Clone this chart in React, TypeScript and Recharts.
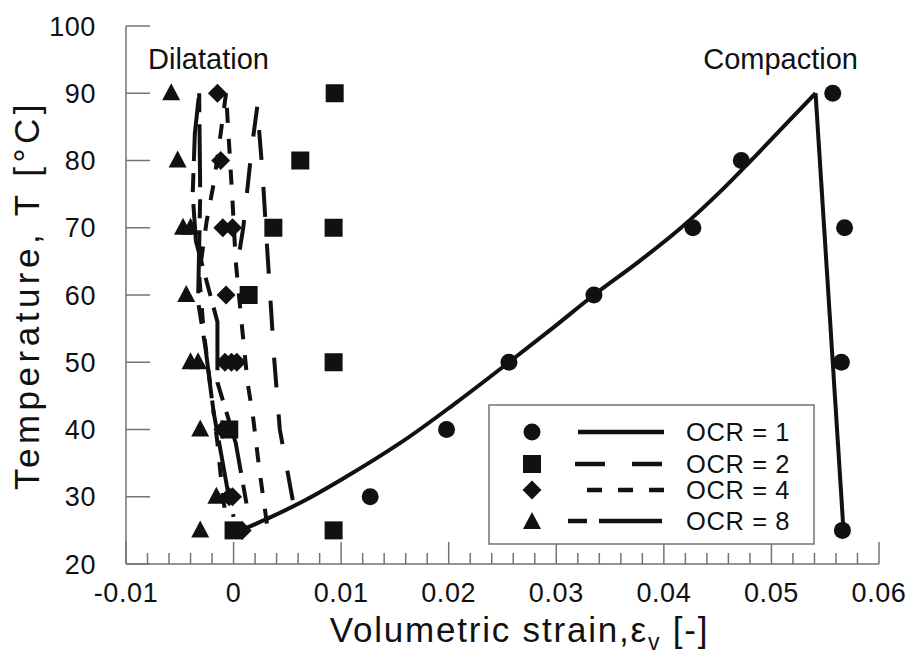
import React from 'react';
import { ScatterChart, Scatter, XAxis, YAxis, Label } from 'recharts';

// measured points, OCR = 1 (circles)
const ocr1Strain = [0.0004, 0.0127, 0.0198, 0.0256, 0.0335, 0.0427, 0.0472, 0.0557, 0.0568, 0.0565, 0.0566];
const ocr1Temp = [25, 30, 40, 50, 60, 70, 80, 90, 70, 50, 25];

// OCR = 2 (squares)
const ocr2Strain = [0.0, -0.0004, 0.0014, 0.0037, 0.0062, 0.0094, 0.0093, 0.0093, 0.0093];
const ocr2Temp = [25, 40, 60, 70, 80, 90, 70, 50, 25];

// OCR = 4 (diamonds)
const ocr4Strain = [0.0008, -0.0004, -0.0001, -0.001, -0.0008, -0.0002, 0.0003, -0.0007, -0.001, -0.0001, -0.0012, -0.0015];
const ocr4Temp = [25, 30, 30, 40, 50, 50, 50, 60, 70, 70, 80, 90];

// OCR = 8 (triangles)
const ocr8Strain = [-0.0031, -0.0016, -0.0031, -0.004, -0.0033, -0.0044, -0.0047, -0.004, -0.0052, -0.0058];
const ocr8Temp = [25, 30, 40, 50, 50, 60, 70, 70, 80, 90];

// simulated curves
const sim1HeatStrain = [0.0007, 0.0035, 0.0062, 0.0105, 0.0155, 0.0207, 0.0256, 0.0296, 0.0335, 0.0377, 0.0416, 0.045, 0.0481, 0.0511, 0.0541];
const sim1HeatTemp = [25, 27, 29.1, 33, 38, 44, 50, 55, 60, 65, 70, 75, 80, 85, 90];
const sim1CoolStrain = [0.0541, 0.0567];
const sim1CoolTemp = [90, 25];

const sim2HeatStrain = [0.0055, 0.0043, 0.0038, 0.0034, 0.003, 0.0027, 0.0022];
const sim2HeatTemp = [29.5, 40, 50, 60, 70, 78, 88];
const sim2CoolStrain = [0.0022, 0.0017, 0.0013, 0.0009, 0.0003];
const sim2CoolTemp = [88, 82, 76, 70, 64];

const sim4HeatStrain = [0.0031, 0.0024, 0.0018, 0.0013, 0.0008, 0.0002, -0.0001, -0.0004, -0.0007];
const sim4HeatTemp = [26, 34, 42, 47, 55, 65, 74, 82, 90];
const sim4CoolStrain = [-0.0007, -0.0012, -0.0018, -0.0025, -0.0032, -0.0028, -0.0022, -0.0015, -0.001, -0.0006];
const sim4CoolTemp = [90, 84, 77, 71, 63, 55, 47, 38, 30, 26];

const sim8HeatStrain = [0.0012, 0.0002, -0.0015, -0.0015, -0.0035, -0.0038, -0.0036, -0.0032];
const sim8HeatTemp = [29, 38, 47, 56, 68, 75, 84, 90];
const sim8CoolStrain = [-0.0032, -0.0031, -0.0033, -0.0026, -0.0019, -0.0005, 0.0];
const sim8CoolTemp = [90, 75, 59, 52, 43, 30.5, 27];

const xMajorTicks = [-0.01, 0, 0.01, 0.02, 0.03, 0.04, 0.05, 0.06];
const xMajorLabels = ['-0.01', '0', '0.01', '0.02', '0.03', '0.04', '0.05', '0.06'];
const xMinorTicks = [
  -0.008, -0.006, -0.004, -0.002, 0.002, 0.004, 0.006, 0.008, 0.012, 0.014, 0.016, 0.018,
  0.022, 0.024, 0.026, 0.028, 0.032, 0.034, 0.036, 0.038, 0.042, 0.044, 0.046, 0.048,
  0.052, 0.054, 0.056, 0.058,
];
const yTicks = [20, 30, 40, 50, 60, 70, 80, 90, 100];

const legendLabels = ['OCR = 1', 'OCR = 2', 'OCR = 4', 'OCR = 8'];

const zip = (xs: number[], ys: number[]) => xs.map((x, i) => ({ x, y: ys[i] }));

const FONT = '"Liberation Sans", Arial, Helvetica, sans-serif';
const INK = '#111';
const FRAME = '#737373';
const W = 898;
const H = 647;
const X_MARGIN = 19;
const Y_MARGIN = 30;

const dash2 = '30 27';
const dash4 = '15 16';
const dash8 = '19 12 63 12';

const allXTicks = [...xMajorTicks, ...xMinorTicks].sort((a, b) => a - b);
const isMajor = (v: number) => xMajorTicks.some((m) => Math.abs(m - v) < 1e-9);
const majorLabel = (v: number) => xMajorLabels[xMajorTicks.findIndex((m) => Math.abs(m - v) < 1e-9)];

const Circle = (p: any) => <circle cx={p.cx} cy={p.cy} r={8.5} fill={INK} />;
const Square = (p: any) => <rect x={p.cx - 9} y={p.cy - 9} width={18} height={18} fill={INK} />;
const Diamond = (p: any) => (
  <polygon points={`${p.cx},${p.cy - 9.5} ${p.cx + 9.5},${p.cy} ${p.cx},${p.cy + 9.5} ${p.cx - 9.5},${p.cy}`} fill={INK} />
);
const Triangle = (p: any) => (
  <polygon points={`${p.cx},${p.cy - 10} ${p.cx + 9},${p.cy + 7} ${p.cx - 9},${p.cy + 7}`} fill={INK} />
);
const NoDot = () => <g />;

const BottomTick = (p: any) => {
  const v = p.payload.value;
  const major = isMajor(v);
  const axisY = p.y - X_MARGIN;
  return (
    <g>
      <line x1={p.x} x2={p.x} y1={axisY} y2={axisY - (major ? 22 : 11)} stroke={FRAME} strokeWidth={1.5} />
      {major && (
        <text x={p.x} y={p.y} dy="0.71em" textAnchor="middle" fontSize={27} fill={INK} fontFamily={FONT} letterSpacing={0.6}>
          {majorLabel(v)}
        </text>
      )}
    </g>
  );
};

const TopTick = (p: any) => {
  const major = isMajor(p.payload.value);
  return <line x1={p.x} x2={p.x} y1={p.y} y2={p.y + (major ? 22 : 11)} stroke={FRAME} strokeWidth={1.5} />;
};

const LeftTick = (p: any) => {
  const axisX = p.x + Y_MARGIN;
  return (
    <g>
      <line x1={axisX} x2={axisX + 24} y1={p.y} y2={p.y} stroke={FRAME} strokeWidth={1.5} />
      <text x={p.x} y={p.y} dy="0.36em" textAnchor="end" fontSize={27} fill={INK} fontFamily={FONT} letterSpacing={0.6}>
        {p.payload.value}
      </text>
    </g>
  );
};

const RightTick = (p: any) => <line x1={p.x} x2={p.x - 24} y1={p.y} y2={p.y} stroke={FRAME} strokeWidth={1.5} />;

const XTitle = (p: any) => {
  const vb = p.viewBox;
  return (
    <text x={vb.x + vb.width / 2 + 17} y={634} textAnchor="middle" fontSize={35} fill={INK} fontFamily={FONT} letterSpacing={1.8}>
      <tspan>Volumetric strain,</tspan>
      <tspan>ε</tspan>
      <tspan fontSize={23} dy={8}>v</tspan>
      <tspan dy={-8}> [-]</tspan>
    </text>
  );
};

const YTitle = (p: any) => {
  const vb = p.viewBox;
  const cy = vb.y + vb.height / 2;
  return (
    <text x={31} y={cy} transform={`rotate(-90, 31, ${cy})`} textAnchor="middle" fontSize={35} fill={INK} fontFamily={FONT} letterSpacing={4.5}>
      Temperature, T [°C]
    </text>
  );
};

const legendRows = [
  { marker: 'circle', dash: undefined },
  { marker: 'square', dash: dash2 },
  { marker: 'diamond', dash: dash4 },
  { marker: 'triangle', dash: dash8 },
];
const rowY = [28, 60, 86, 117];

const LegendBox = () => (
  <svg width={327} height={141} style={{ position: 'absolute', left: 480, top: 396 }}>
    <rect x={1} y={1} width={325} height={139} fill="#fff" stroke={FRAME} strokeWidth={1.5} />
    {legendRows.map((r, i) => {
      const cy = rowY[i];
      const cx = 44;
      let m;
      if (r.marker === 'circle') m = <Circle cx={cx} cy={cy} />;
      else if (r.marker === 'square') m = <Square cx={cx} cy={cy} />;
      else if (r.marker === 'diamond') m = <Diamond cx={cx} cy={cy} />;
      else m = <Triangle cx={cx} cy={cy + 1} />;
      const x1 = r.marker === 'square' ? 87 : r.marker === 'diamond' ? 99 : r.marker === 'triangle' ? 80 : 90;
      return (
        <g key={i}>
          {m}
          <line x1={x1} x2={176} y1={cy} y2={cy} stroke={INK} strokeWidth={4.3} strokeDasharray={r.dash} />
          <text x={198} y={cy} dy="0.36em" fontSize={25.5} fill={INK} fontFamily={FONT} letterSpacing={0.6}>
            {legendLabels[i]}
          </text>
        </g>
      );
    })}
  </svg>
);

const lineSeries = [
  { data: zip(sim1HeatStrain, sim1HeatTemp), dash: undefined, joint: 'monotoneY' },
  { data: zip(sim1CoolStrain, sim1CoolTemp), dash: undefined, joint: 'linear' },
  { data: zip(sim2HeatStrain, sim2HeatTemp), dash: dash2, joint: 'linear' },
  { data: zip(sim2CoolStrain, sim2CoolTemp), dash: dash2, joint: 'linear' },
  { data: zip(sim4HeatStrain, sim4HeatTemp), dash: dash4, joint: 'linear' },
  { data: zip(sim4CoolStrain, sim4CoolTemp), dash: dash4, joint: 'linear' },
  { data: zip(sim8HeatStrain, sim8HeatTemp), dash: dash8, joint: 'linear' },
  { data: zip(sim8CoolStrain, sim8CoolTemp), dash: dash8, joint: 'linear' },
];

export default function App() {
  return (
    <div style={{ position: 'relative', width: W, height: H, fontFamily: FONT }}>
      <ScatterChart width={W} height={H} margin={{ top: 18, right: 27, bottom: 0, left: 0 }}>
        <XAxis
          xAxisId="b"
          type="number"
          dataKey="x"
          domain={[-0.01, 0.06]}
          ticks={allXTicks}
          interval={0}
          height={91}
          tickSize={0}
          tickMargin={X_MARGIN}
          tickLine={false}
          tick={BottomTick}
          axisLine={{ stroke: FRAME, strokeWidth: 1.5 }}
          allowDataOverflow
        >
          <Label content={XTitle} />
        </XAxis>
        <XAxis
          xAxisId="t"
          orientation="top"
          type="number"
          dataKey="x"
          domain={[-0.01, 0.06]}
          ticks={allXTicks}
          interval={0}
          height={0}
          tickSize={0}
          tickMargin={0}
          tickLine={false}
          tick={TopTick}
          axisLine={{ stroke: FRAME, strokeWidth: 1.5 }}
          allowDataOverflow
        />
        <YAxis
          yAxisId="l"
          type="number"
          dataKey="y"
          domain={[20, 100]}
          ticks={yTicks}
          interval={0}
          width={118}
          tickSize={0}
          tickMargin={Y_MARGIN}
          tickLine={false}
          tick={LeftTick}
          axisLine={{ stroke: FRAME, strokeWidth: 1.5 }}
          allowDataOverflow
        >
          <Label content={YTitle} />
        </YAxis>
        <YAxis
          yAxisId="r"
          orientation="right"
          type="number"
          dataKey="y"
          domain={[20, 100]}
          ticks={yTicks}
          interval={0}
          width={0}
          tickSize={0}
          tickMargin={0}
          tickLine={false}
          tick={RightTick}
          axisLine={{ stroke: FRAME, strokeWidth: 1.5 }}
          allowDataOverflow
        />

        {lineSeries.map((s, i) => (
          <Scatter
            key={`line-${i}`}
            xAxisId="b"
            yAxisId="l"
            data={s.data}
            fill={INK}
            line={{ stroke: INK, strokeWidth: 4, strokeDasharray: s.dash }}
            lineJointType={s.joint as any}
            shape={NoDot}
            isAnimationActive={false}
          />
        ))}

        <Scatter xAxisId="b" yAxisId="l" data={zip(ocr1Strain, ocr1Temp)} fill={INK} shape={Circle} isAnimationActive={false} />
        <Scatter xAxisId="b" yAxisId="l" data={zip(ocr2Strain, ocr2Temp)} fill={INK} shape={Square} isAnimationActive={false} />
        <Scatter xAxisId="b" yAxisId="l" data={zip(ocr4Strain, ocr4Temp)} fill={INK} shape={Diamond} isAnimationActive={false} />
        <Scatter xAxisId="b" yAxisId="l" data={zip(ocr8Strain, ocr8Temp)} fill={INK} shape={Triangle} isAnimationActive={false} />
      </ScatterChart>

      <div style={{ position: 'absolute', left: 140, top: 35, fontSize: 29, color: INK, lineHeight: '32px' }}>Dilatation</div>
      <div style={{ position: 'absolute', right: 48, top: 35, fontSize: 29, color: INK, lineHeight: '32px' }}>Compaction</div>
      <LegendBox />
    </div>
  );
}
